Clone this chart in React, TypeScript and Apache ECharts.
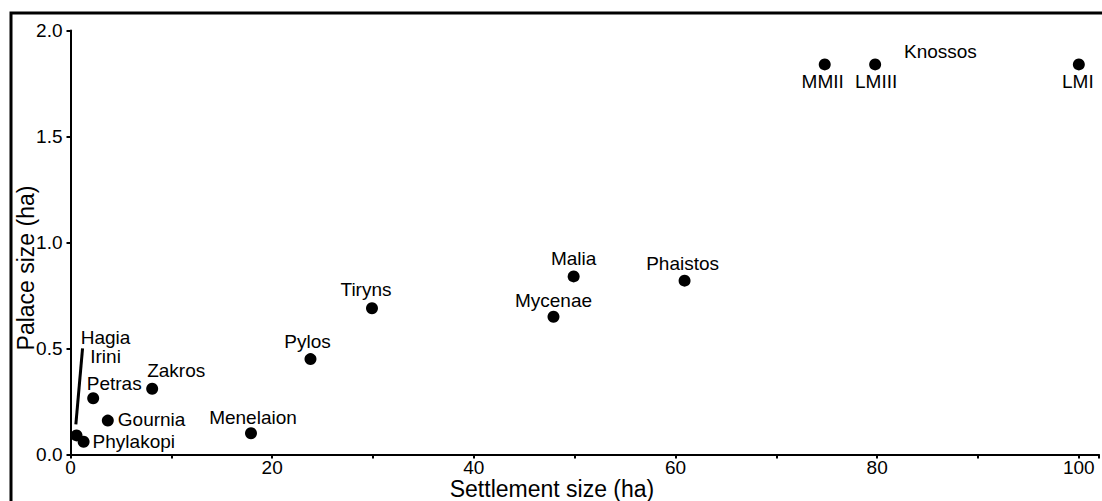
import React, { useEffect, useRef } from "react";
import * as echarts from "echarts";

// Sites and their sizes in hectares
const sites = [
  "Hagia Irini",
  "Phylakopi",
  "Petras",
  "Gournia",
  "Zakros",
  "Menelaion",
  "Pylos",
  "Tiryns",
  "Mycenae",
  "Malia",
  "Phaistos",
  "MMII",
  "LMIII",
  "LMI",
];
const siteLabels = [
  "Hagia\nIrini",
  "Phylakopi",
  "Petras",
  "Gournia",
  "Zakros",
  "Menelaion",
  "Pylos",
  "Tiryns",
  "Mycenae",
  "Malia",
  "Phaistos",
  "MMII",
  "LMIII",
  "LMI",
];
const settlementHa = [0.6, 1.3, 2.25, 3.7, 8.1, 17.9, 23.8, 29.9, 47.9, 49.9, 60.9, 74.8, 79.8, 100];
const palaceHa = [0.09, 0.06, 0.265, 0.16, 0.31, 0.1, 0.45, 0.69, 0.65, 0.84, 0.82, 1.84, 1.84, 1.84];

const xLabelStep = 20;
const groupTitle = "Knossos";
const xTitle = "Settlement size (ha)";
const yTitle = "Palace size (ha)";

const FONT = '"Liberation Sans", Arial, Helvetica, sans-serif';

// Where each site's label sits relative to its dot
const labelPlacement: Record<string, any> = {
  "Hagia Irini": { position: "inside", offset: [29, -88], align: "center", lineHeight: 19 },
  Phylakopi: { position: "right", distance: 3, offset: [0, 0], lineHeight: 17 },
  Petras: { position: "inside", offset: [21, -15] },
  Gournia: { position: "right", distance: 4, offset: [0, -1], lineHeight: 17 },
  Zakros: { position: "inside", offset: [24, -18] },
  Menelaion: { position: "inside", offset: [2, -16] },
  Pylos: { position: "inside", offset: [-3, -18] },
  Tiryns: { position: "inside", offset: [-6, -19] },
  Mycenae: { position: "inside", offset: [0, -16] },
  Malia: { position: "inside", offset: [0, -18] },
  Phaistos: { position: "inside", offset: [-2, -17] },
  MMII: { position: "inside", offset: [-2, 17] },
  LMIII: { position: "inside", offset: [1, 17] },
  LMI: { position: "inside", offset: [-1, 17] },
};

export default function App() {
  const ref = useRef<HTMLDivElement>(null);

  useEffect(() => {
    if (!ref.current) return;
    const chart = echarts.init(ref.current, undefined, { renderer: "svg" });

    const data = sites.map((s, i) => ({
      name: s,
      value: [settlementHa[i], palaceHa[i]],
      label: {
        show: true,
        formatter: siteLabels[i],
        color: "#000",
        fontSize: 19,
        fontFamily: FONT,
        ...labelPlacement[s],
      },
    }));

    const baseGraphics: any[] = [
      {
        type: "rect",
        shape: { x: 11, y: 13, width: 1200, height: 600 },
        style: { fill: "none", stroke: "#000", lineWidth: 3 },
        silent: true,
      },
      {
        type: "text",
        x: 552,
        y: 489,
        style: {
          text: xTitle,
          font: `23px ${FONT}`,
          fill: "#000",
          align: "center",
          verticalAlign: "middle",
        },
      },
      {
        type: "text",
        x: 26,
        y: 268,
        rotation: Math.PI / 2,
        style: {
          text: yTitle,
          font: `23px ${FONT}`,
          fill: "#000",
          align: "center",
          verticalAlign: "middle",
        },
      },
      {
        type: "text",
        x: 904,
        y: 51,
        style: {
          text: groupTitle,
          font: `19px ${FONT}`,
          fill: "#000",
          align: "left",
          verticalAlign: "middle",
        },
      },
    ];

    chart.setOption({
      animation: false,
      backgroundColor: "#fff",
      grid: { left: 70.5, top: 30.5, width: 1034.3, height: 424, containLabel: false },
      xAxis: {
        type: "value",
        min: 0,
        max: 102,
        interval: 10,
        axisLine: { show: true, onZero: false, lineStyle: { color: "#000", width: 2 } },
        axisTick: { show: true, length: 4, lineStyle: { color: "#000", width: 2 } },
        axisLabel: {
          color: "#000",
          fontSize: 19,
          fontFamily: FONT,
          margin: 3,
          hideOverlap: false,
          formatter: (v: number) => (v % xLabelStep === 0 && v <= 100 ? String(v) : ""),
        },
        splitLine: { show: false },
      },
      yAxis: {
        type: "value",
        min: 0,
        max: 2,
        interval: 0.5,
        axisLine: { show: true, onZero: false, lineStyle: { color: "#000", width: 2 } },
        axisTick: { show: true, length: 4, lineStyle: { color: "#000", width: 2 } },
        axisLabel: {
          color: "#000",
          fontSize: 19,
          fontFamily: FONT,
          margin: 8,
          formatter: (v: number) => v.toFixed(1),
        },
        splitLine: { show: false },
      },
      series: [
        {
          type: "scatter",
          symbol: "circle",
          symbolSize: 12,
          itemStyle: { color: "#000", opacity: 1 },
          data,
        },
      ],
      graphic: baseGraphics,
    });

    // Leader line from the Hagia Irini dot up to its label
    const idx = sites.indexOf("Hagia Irini");
    const p = chart.convertToPixel({ seriesIndex: 0 }, [settlementHa[idx], palaceHa[idx]]) as number[];
    chart.setOption({
      graphic: [
        ...baseGraphics,
        {
          type: "line",
          shape: { x1: p[0] - 0.7, y1: p[1] - 11, x2: p[0] + 6, y2: p[1] - 87 },
          style: { stroke: "#000", lineWidth: 3 },
          silent: true,
        },
      ],
    });

    return () => chart.dispose();
  }, []);

  return (
    <div
      ref={ref}
      style={{ position: "fixed", left: 0, top: 0, width: 1102, height: 501, background: "#fff" }}
    />
  );
}
